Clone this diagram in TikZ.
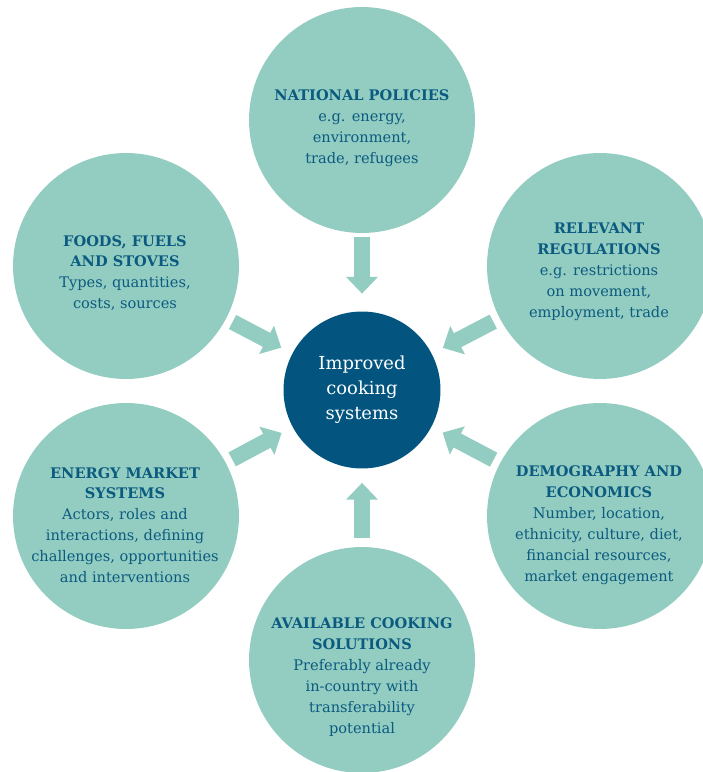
\documentclass[tikz,border=0pt]{standalone}
\usepackage{fontspec}
\setmainfont{DejaVu Serif}
\usetikzlibrary{arrows.meta}

\definecolor{ringfill}{HTML}{93CDC1}
\definecolor{hubfill}{HTML}{03557F}
\definecolor{inktext}{HTML}{0B5A80}

\tikzset{
  ring/.style={circle, fill=ringfill, minimum size=4.52cm, inner sep=0pt},
  hub/.style={circle, fill=hubfill, minimum size=3.14cm, inner sep=0pt,
    text=white, align=center, font=\fontsize{10.2}{14.2}\selectfont},
  blurb/.style={text=inktext, align=center, inner sep=0pt,
    font=\fontsize{8.3}{11.9}\selectfont},
  flow/.style={color=ringfill, line width=9pt,
    -{Triangle[width=17.6pt, length=9.5pt]}},
}

\begin{document}
\begin{tikzpicture}[x=0.02cm, y=-0.02cm]
  \useasboundingbox (0,0) rectangle (703,772);
  \clip (0,0) rectangle (703,772);

  \node[hub] (hub) at (362,390) {Improved\\cooking\\systems};
  \node[ring] (pol) at (362,120) {};
  \node[ring] (reg) at (600,266) {};
  \node[ring] (dem) at (600,516) {};
  \node[ring] (sol) at (362,660) {};
  \node[ring] (mkt) at (126,516) {};
  \node[ring] (fue) at (126,266) {};

  \node[blurb] (pol-t) at (362,128)
    {\textbf{NATIONAL POLICIES}\\e.g. energy,\\environment,\\trade, refugees};
  \node[blurb] (reg-t) at (599,272)
    {\textbf{RELEVANT}\\\textbf{REGULATIONS}\\e.g. restrictions\\on movement,\\employment, trade};
  \node[blurb] (dem-t) at (599,525)
    {\textbf{DEMOGRAPHY AND}\\\textbf{ECONOMICS}\\Number, location,\\ethnicity, culture, diet,\\financial resources,\\market engagement};
  \node[blurb] (sol-t) at (362,677)
    {\textbf{AVAILABLE COOKING}\\\textbf{SOLUTIONS}\\Preferably already\\in-country with\\transferability\\potential};
  \node[blurb] (mkt-t) at (125,525)
    {\textbf{ENERGY MARKET}\\\textbf{SYSTEMS}\\Actors, roles and\\interactions, defining\\challenges, opportunities\\and interventions};
  \node[blurb] (fue-t) at (125,273)
    {\textbf{FOODS, FUELS}\\\textbf{AND STOVES}\\Types, quantities,\\costs, sources};

  \path[flow]
    (pol) edge [shorten <=2.3pt, shorten >=10pt] (hub)
    (sol) edge [shorten <=5pt, shorten >=8pt] (hub)
    (fue) edge [shorten <=4pt, shorten >=7pt] (hub)
    (mkt) edge [shorten <=4pt, shorten >=7pt] (hub)
    (reg) edge [shorten <=4pt, shorten >=7pt] (hub)
    (dem) edge [shorten <=4pt, shorten >=7pt] (hub);
\end{tikzpicture}
\end{document}
